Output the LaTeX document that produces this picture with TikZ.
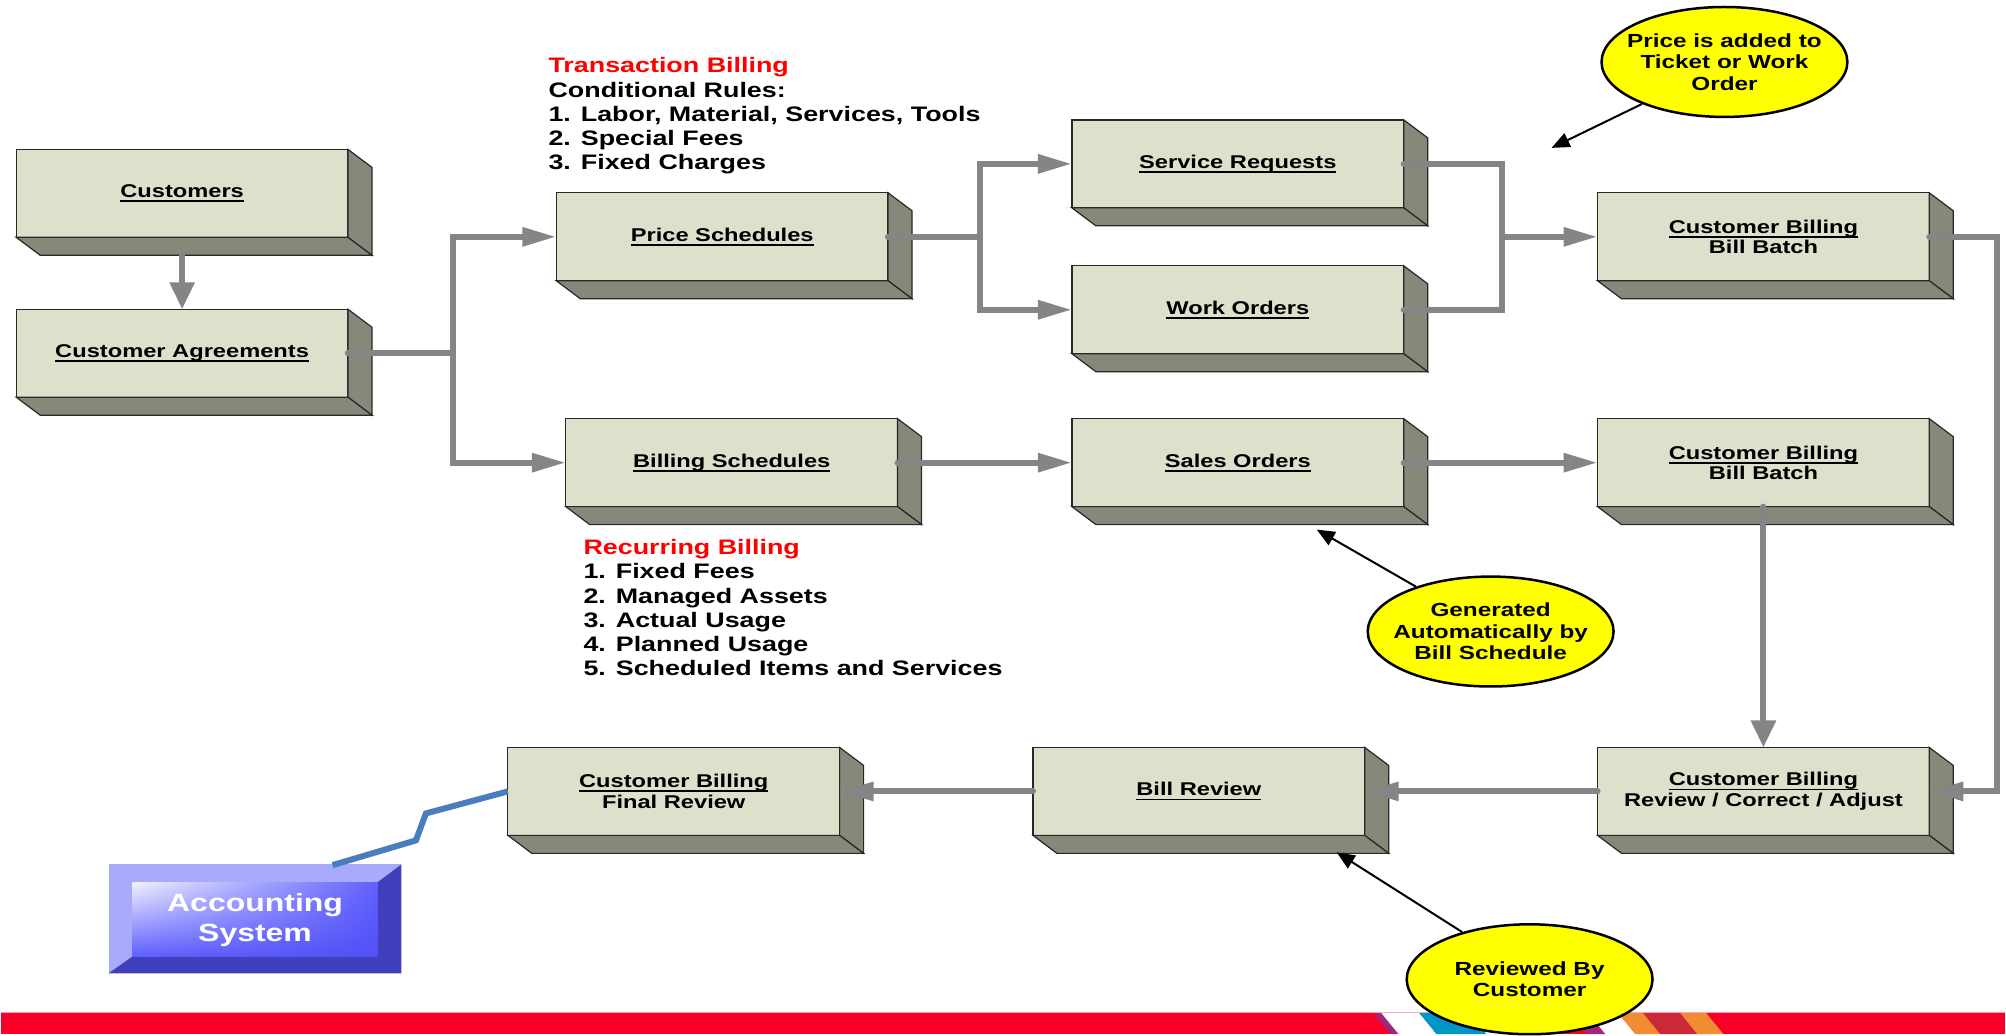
\documentclass[tikz,border=0pt]{standalone}
\usepackage{fontspec}
\setmainfont{Liberation Sans}[FakeStretch=1.28]
\usetikzlibrary{arrows.meta,shapes.geometric,shadings}
\definecolor{slabface}{RGB}{221,224,203}
\definecolor{slabside}{RGB}{134,136,122}
\definecolor{slabline}{RGB}{40,40,40}
\definecolor{flowgray}{RGB}{133,133,133}
\definecolor{noteyellow}{RGB}{255,255,0}
\definecolor{boltblue}{RGB}{74,124,192}
\definecolor{bandred}{RGB}{250,0,40}
\definecolor{bandpink}{RGB}{245,170,185}
\definecolor{stripemag}{RGB}{160,40,120}
\definecolor{stripeblue}{RGB}{0,150,200}
\definecolor{stripeorange}{RGB}{240,140,50}
\definecolor{stripedark}{RGB}{205,40,55}
\definecolor{acctlight}{RGB}{170,170,250}
\definecolor{acctdark}{RGB}{64,64,188}
\definecolor{acctglow}{RGB}{240,240,255}
\definecolor{acctblue}{RGB}{95,95,255}
\definecolor{acctdeep}{RGB}{80,80,245}
\newsavebox\titlebox
\newcommand{\boxtitle}[1]{\sbox\titlebox{#1}\rlap{\rule[-4.5pt]{\wd\titlebox}{1.8pt}}\usebox\titlebox}
\tikzset{
  slab/.style={draw=slabline,line width=1.2pt,fill=slabface,minimum width=332pt,
    minimum height=88pt,inner sep=0pt,outer sep=0pt,align=center,
    font=\fontsize{18.5}{20.5}\selectfont\bfseries},
  flow/.style={draw=flowgray,line width=6pt,line cap=round},
  htip/.style={-{Triangle[length=34pt,width=18pt]}},
  vtip/.style={-{Triangle[length=27pt,width=24pt]}},
  callout/.style={ellipse,draw,line width=2.5pt,fill=noteyellow,minimum width=246pt,
    minimum height=110pt,inner sep=0pt},
  notetext/.style={align=center,font=\fontsize{19}{21.5}\selectfont\bfseries},
  pointer/.style={line width=2pt,-{Triangle[length=18pt,width=15pt]}},
  notes/.style={anchor=north west,inner sep=0pt,align=left,
    font=\fontsize{21}{24.3}\selectfont\bfseries},
  bolt/.style={draw=boltblue,line width=6pt}
}
\begin{document}
\begin{tikzpicture}[x=1pt,y=-1pt]

    % page
    \fill[white] (0,0) rectangle (2006,1035);

    % band
    \fill[bandred] (0,1013) rectangle (2006,1035);
    \foreach \x/\w/\c in {1373/8/stripemag,1381/38/white,1419/50/stripeblue,1469/30/white,
      1570/18/stripemag,1588/30/white,1618/25/stripeorange,1643/37/stripedark,1680/26/stripeorange}
      \fill[\c] (\x,1013) -- ++(\w,0) -- ++(18,22) -- ++(-\w,0) -- cycle;
    \draw[bandpink,line width=1.5pt] (0,1013) -- (2006,1013);

    % boxes
    \node[slab] (cust)   at (181.5,193.5) {\boxtitle{Customers}};
    \node[slab] (agr)    at (181.5,353.5) {\boxtitle{Customer Agreements}};
    \node[slab] (price)  at (722,237)     {\boxtitle{Price Schedules}};
    \node[slab] (bills)  at (731.5,463)   {\boxtitle{Billing Schedules}};
    \node[slab] (serv)   at (1238,164)    {\boxtitle{Service Requests}};
    \node[slab] (work)   at (1238,310)    {\boxtitle{Work Orders}};
    \node[slab] (sales)  at (1238,463)    {\boxtitle{Sales Orders}};
    \node[slab] (batch1) at (1764,237)    {\boxtitle{Customer Billing}\\Bill Batch};
    \node[slab] (batch2) at (1764,463)    {\boxtitle{Customer Billing}\\Bill Batch};
    \node[slab] (adjust) at (1764,792)    {\boxtitle{Customer Billing}\\Review / Correct / Adjust};
    \node[slab] (review) at (1199,792)    {\boxtitle{Bill Review}};
    \node[slab] (final)  at (673.5,792)   {\boxtitle{Customer Billing}\\Final Review};

    % depth of the boxes
    \foreach \n in {cust,agr,price,bills,serv,work,sales,batch1,batch2,adjust,review,final}{
      \filldraw[fill=slabside,draw=slabline,line width=1.2pt]
        (\n.north east) -- ++(24,18) -- ++(0,88) -- (\n.south east) -- cycle;
      \filldraw[fill=slabside,draw=slabline,line width=1.2pt]
        (\n.south west) -- ++(24,18) -- ++(332,0) -- (\n.south east) -- cycle;
    }

    % lists
    \node[notes] (trans) at (548,57.5) {\textcolor{red}{Transaction Billing}\\
      Conditional Rules:\\1. Labor, Material, Services, Tools\\2. Special Fees\\3. Fixed Charges};
    \node[notes] (recur) at (583,539.5) {\textcolor{red}{Recurring Billing}\\
      1. Fixed Fees\\2. Managed Assets\\3. Actual Usage\\4. Planned Usage\\
      5. Scheduled Items and Services};

    % forks
    \coordinate (fork1) at (453,0);
    \coordinate (fork2) at (980,0);
    \coordinate (join1) at (1502,0);
    \coordinate (rail)  at (1998,0);

    % arrows
    \draw[flow,vtip] (cust.south) ++(0,18) -- (agr.north);
    \draw[flow,htip] (agr.east) -| (fork1 |- price.west) -- (price.west);
    \draw[flow,htip] (agr.east) -| (fork1 |- bills.west) -- (bills.west);
    \draw[flow,htip] (price.east) -| (fork2 |- serv.west) -- (serv.west);
    \draw[flow,htip] (price.east) -| (fork2 |- work.west) -- (work.west);
    \draw[flow,htip] (serv.east) -| (join1 |- batch1.west) -- (batch1.west);
    \draw[flow] (work.east) -| (join1 |- batch1.west);
    \draw[flow,htip] (bills.east) -- (sales.west);
    \draw[flow,htip] (sales.east) -- (batch2.west);
    \draw[flow,htip] (batch1.east) -| (rail |- adjust.east) -- (adjust.east);
    \draw[flow,vtip] (batch2.south) -- (adjust.north);
    \draw[flow,htip] (adjust.west) -- (review.east);
    \draw[flow,htip] (review.west) -- (final.east);

    % notes
    \node[callout,label={[notetext]center:{Price is added to\\Ticket or Work\\Order}}]
      (noteA) at (1725,62) {};
    \node[callout,label={[notetext]center:{Generated\\Automatically by\\Bill Schedule}}]
      (noteB) at (1491,632) {};
    \node[callout,label={[notetext]center:{Reviewed By\\Customer}}]
      (noteC) at (1530,980) {};
    \coordinate (tipA) at (1552,148);
    \coordinate (tipB) at (1317,530);
    \coordinate (tipC) at (1337,853);
    \draw[pointer] (noteA.207) -- (tipA);
    \draw[pointer] (noteB.149) -- (tipB);
    \draw[pointer] (noteC.145) -- (tipC);

    % accounting system
    \fill[acctlight] (108,865) rectangle (401,974);
    \fill[acctdark] (401,865) -- (377,883) -- (377,957) -- (132,957) -- (108,974)
      -- (401,974) -- cycle;
    \shade[upper left=acctglow,upper right=acctblue,lower left=acctblue,lower right=acctdeep]
      (132,883) rectangle (377,957);
    \node[minimum width=293pt,minimum height=109pt,inner sep=0pt,align=center,text=white,
      font=\fontsize{25}{30}\selectfont\bfseries] (acct) at (254.5,920.5) {Accounting\\System};
    \draw[bolt] (final.west) -- ++(-82,22) -- ++(-10,27) -- ([xshift=77.5pt]acct.north);

\end{tikzpicture}
\end{document}
